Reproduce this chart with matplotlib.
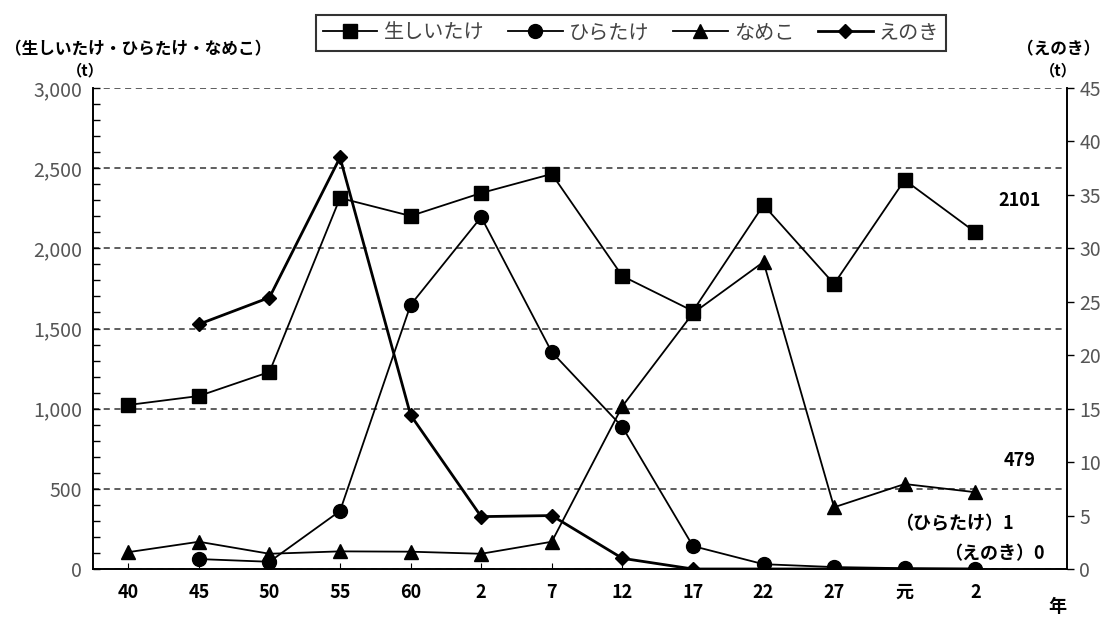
import matplotlib
matplotlib.use("Agg")
import matplotlib.pyplot as plt
from matplotlib.ticker import MultipleLocator, FuncFormatter

plt.rcParams['font.family'] = ['Noto Sans CJK JP', 'DejaVu Sans']

years = ["40", "45", "50", "55", "60", "2", "7", "12", "17", "22", "27", "元", "2"]
shiitake = [1023, 1079, 1229, 2314, 2202, 2345, 2464, 1827, 1609, 2270, 1778, 2426, 2101]
hiratake = [None, 62, 45, 362, 1647, 2195, 1353, 886, 143, 30, 12, 5, 1]
nameko = [105, 170, 95, 110, 108, 95, 170, 1015, 1595, 1915, 385, 530, 479]
enoki = [None, 22.9, 25.4, 38.5, 14.4, 4.9, 5.0, 1.0, 0, 0, 0, 0, 0]

x = list(range(len(years)))

fig = plt.figure(figsize=(11.02, 6.17), dpi=100)
ax = fig.add_axes([93/1102, 1-569/617, (1067-93)/1102, (569-88)/617])
ax2 = ax.twinx()

def clean(vals):
    return [float('nan') if v is None else v for v in vals]

l1, = ax.plot(x, shiitake, color='black', lw=1.3, marker='s', ms=10, label='生しいたけ')
l2, = ax.plot(x, clean(hiratake), color='black', lw=1.3, marker='o', ms=10, label='ひらたけ')
l3, = ax.plot(x, nameko, color='black', lw=1.3, marker='^', ms=10, label='なめこ')
l4, = ax2.plot(x, clean(enoki), color='black', lw=2.0, marker='D', ms=7, label='えのき')

ax.set_xlim(-0.5, 13.3)
ax.set_ylim(0, 3000)
ax2.set_ylim(0, 45)

ax.yaxis.set_major_locator(MultipleLocator(500))
ax.yaxis.set_minor_locator(MultipleLocator(100))
ax.yaxis.set_major_formatter(FuncFormatter(lambda v, p: f"{int(v):,}"))
ax.tick_params(axis='y', which='both', direction='in', length=5, width=1,
               labelsize=14, labelcolor='#555555', pad=8)
ax.grid(axis='y', which='major', linestyle=(0, (4, 3)), color='#333333', lw=1.1)

ax2.yaxis.set_major_locator(MultipleLocator(5))
ax2.tick_params(axis='y', direction='out', length=5, width=1,
                labelsize=14, labelcolor='#555555', pad=4)

ax.set_xticks(x)
ax.set_xticklabels(years, fontsize=13, fontweight='bold')
ax.tick_params(axis='x', direction='in', length=4, pad=10)

for a in (ax, ax2):
    a.spines['top'].set_visible(False)
    for s in ('left', 'right', 'bottom'):
        a.spines[s].set_linewidth(1.2)

leg = fig.legend(handles=[l1, l2, l3, l4], loc='center', ncol=4,
                 bbox_to_anchor=(631/1102, 1-33/617), frameon=True, fancybox=False,
                 edgecolor='black', fontsize=14.5, handlelength=2.7, columnspacing=1.2,
                 handletextpad=0.3, borderpad=0.35, borderaxespad=0)
leg.get_frame().set_linewidth(1.5)
for t in leg.get_texts():
    t.set_color('#444444')

fig.text(5/1102, 1-49/617, '（生しいたけ・ひらたけ・なめこ）', fontsize=12, fontweight='bold', va='center')
fig.text(85/1102, 1-70/617, '（t）', fontsize=11, fontweight='bold', va='center', ha='center')
fig.text(1100/1102, 1-49/617, '（えのき）', fontsize=12, fontweight='bold', va='center', ha='right')
fig.text(1058/1102, 1-70/617, '（t）', fontsize=11, fontweight='bold', va='center', ha='center')
fig.text(1057/1102, 1-607/617, '年', fontsize=13, fontweight='bold', va='center', ha='center')

fig.text(1020/1102, 1-200/617, '2101', fontsize=13, fontweight='bold', ha='center', va='center')
fig.text(1020/1102, 1-461/617, '479', fontsize=13, fontweight='bold', ha='center', va='center')
fig.text(1014/1102, 1-524/617, '（ひらたけ）1', fontsize=13, fontweight='bold', ha='right', va='center')
fig.text(1045/1102, 1-554/617, '（えのき）0', fontsize=13, fontweight='bold', ha='right', va='center')

fig.savefig('out.png', dpi=100)
plt.close()
